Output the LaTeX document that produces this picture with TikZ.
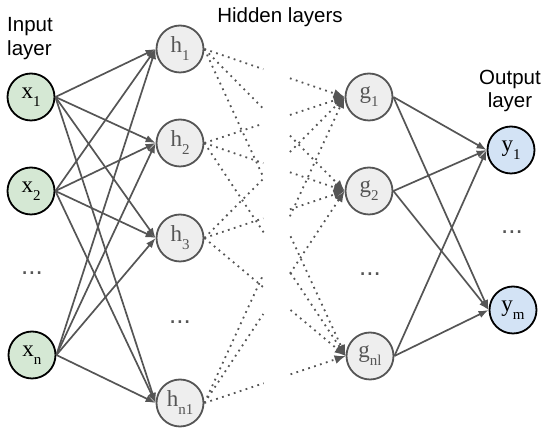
\documentclass[tikz,border=0pt]{standalone}
\usepackage{fontspec}
\setmainfont{Liberation Serif}
\newfontfamily\labfont{Liberation Sans}
\usetikzlibrary{arrows.meta,calc}
\definecolor{lg}{HTML}{555555}
\definecolor{gfill}{HTML}{D5E8D4}
\definecolor{bfill}{HTML}{D3E3F5}
\definecolor{hfill}{HTML}{EEEEEE}
\newcommand{\nlab}[2]{{\fontsize{23}{23}\selectfont #1}\raisebox{-8pt}{\fontsize{15}{15}\selectfont #2}}
\begin{document}
\begin{tikzpicture}[x=1pt,y=-1pt,
  neuron/.style={circle, minimum size=47pt, inner sep=0pt, line width=1.8pt},
  inp/.style={neuron, draw=black, fill=gfill},
  hid/.style={neuron, draw=lg, fill=hfill, text=lg},
  outp/.style={neuron, draw=black, fill=bfill},
  conn/.style={draw=lg, line width=1.7pt, -{Latex[length=10pt,width=7.5pt]}},
  dconn/.style={draw=lg, line width=1.8pt, dash pattern=on 1.8pt off 4.4pt},
  dtip/.style={dconn, -{Latex[length=11pt,width=9pt]}},
  lab/.style={font=\labfont\fontsize{20.5}{24}\selectfont, inner sep=0pt},
  dots/.style={font=\labfont\fontsize{26}{26}\selectfont, text=lg, inner sep=0pt, anchor=base}
]
\useasboundingbox (0,0) rectangle (550,435);

% labels
\node[lab, anchor=base west] (lin1) at (7,32) {Input};
\node[lab, anchor=base west] (lin2) at (7,56) {layer};
\node[lab, anchor=base] (lhid) at (280,23) {Hidden layers};
\node[lab, anchor=base] (lout1) at (510,85) {Output};
\node[lab, anchor=base] (lout2) at (510,108) {layer};

% input
\node[inp] (x1) at (31,97) {\nlab{x}{1}};
\node[inp] (x2) at (31,191) {\nlab{x}{2}};
\node[dots] (xd) at (32,275) {...};
\node[inp] (xn) at (32,355) {\nlab{x}{n}};

% hidden 1
\node[hid] (h1) at (180,49) {\nlab{h}{1}};
\node[hid] (h2) at (180,143) {\nlab{h}{2}};
\node[hid] (h3) at (180,238) {\nlab{h}{3}};
\node[dots] (hd) at (180,324) {...};
\node[hid] (h4) at (180,403) {\nlab{h}{n1}};

% hidden 2
\node[hid] (g1) at (369,97) {\nlab{g}{1}};
\node[hid] (g2) at (369,191) {\nlab{g}{2}};
\node[dots] (gd) at (370,276) {...};
\node[hid] (g3) at (370,356) {\nlab{g}{nl}};

% output
\node[outp] (y1) at (511,150) {\nlab{y}{1}};
\node[dots] (yd) at (512,234) {...};
\node[outp] (y2) at (513,310) {\nlab{y}{m}};

% input -> hidden
\foreach \a in {x1,x2,xn}
  \foreach \b in {h1,h2,h3,h4}
    \draw[conn] (\a.east) -- (\b.west);

% hidden -> hidden (dotted, with gap)
\foreach \a in {h1,h2,h3,h4}
  \foreach \b in {g1,g2,g3}{
    \draw[dconn] (\a.east) -- ($(\a.east)!0.42!(\b.west)$);
    \draw[dtip] ($(\a.east)!0.61!(\b.west)$) -- (\b.west);
  }

% hidden -> output
\foreach \a in {g1,g2,g3}
  \foreach \b in {y1,y2}
    \draw[conn] (\a.east) -- (\b.west);
\end{tikzpicture}
\end{document}
